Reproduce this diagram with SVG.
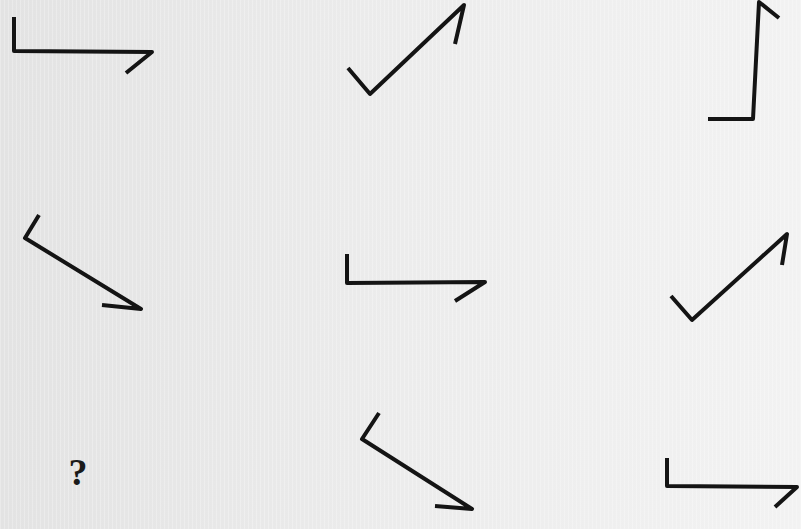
<svg xmlns="http://www.w3.org/2000/svg" width="801" height="529" viewBox="0 0 801 529">
  <style>
    .fig { fill: none; stroke: #141414; stroke-width: 4; stroke-linejoin: round; stroke-linecap: butt; }
    .q { font-family: "Liberation Serif", "Times New Roman", serif; font-weight: bold; font-size: 38px; fill: #1a1a1a; }
  </style>
  <defs>
    <linearGradient id="bg" x1="0" y1="0" x2="1" y2="0">
      <stop offset="0" stop-color="#e3e3e3"/>
      <stop offset="0.5" stop-color="#ececec"/>
      <stop offset="1" stop-color="#f2f2f2"/>
    </linearGradient>
    <pattern id="stripes" width="4" height="10" patternUnits="userSpaceOnUse">
      <rect x="0" y="0" width="1" height="10" fill="#ffffff" opacity="0.25"/>
    </pattern>
  </defs>
  <rect width="801" height="529" fill="url(#bg)"/>
  <rect width="801" height="529" fill="url(#stripes)"/>

  <g id="fig-1"><polyline class="fig" points="14,17 14,51 152,52 126,73"/></g>
  <g id="fig-2"><polyline class="fig" points="348,68 370,94 464,5 455,44"/></g>
  <g id="fig-3"><polyline class="fig" points="708,119 753,119 759,2 779,18"/></g>

  <g id="fig-4"><polyline class="fig" points="39,215 25,238 141,309 102,305"/></g>
  <g id="fig-5"><polyline class="fig" points="347,254 347,283 485,282 455,301"/></g>
  <g id="fig-6"><polyline class="fig" points="671,296 692,320 787,234 782,265"/></g>

  <g id="fig-7"><text class="q" x="78" y="485" text-anchor="middle">?</text></g>
  <g id="fig-8"><polyline class="fig" points="379,413 362,439 472,509 435,506"/></g>
  <g id="fig-9"><polyline class="fig" points="667,458 667,486 797,487 775,507"/></g>
</svg>
